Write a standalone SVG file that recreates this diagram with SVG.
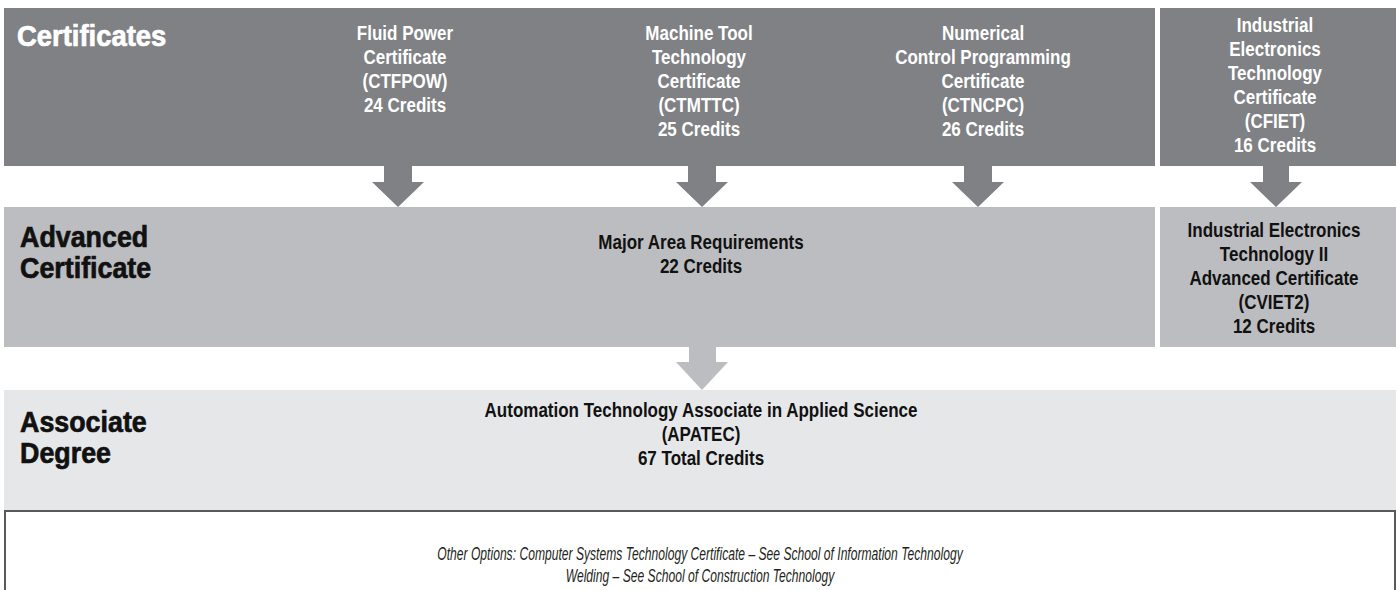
<svg xmlns="http://www.w3.org/2000/svg" width="1398" height="590" viewBox="0 0 1398 590">
<style>
.dark{fill:#808184}
.mid{fill:#bcbdc0}
.light{fill:#e6e7e8}
.title{font-family:"Liberation Sans",Arial,sans-serif;font-weight:bold;font-size:29.5px;stroke-width:0.7px}
.body{font-family:"Liberation Sans",Arial,sans-serif;font-weight:bold;font-size:21px;text-anchor:middle}
.note{font-family:"Liberation Sans",Arial,sans-serif;font-style:italic;font-size:18.5px;text-anchor:middle;fill:#231f20}
.w{fill:#ffffff}
.title.w{stroke:#ffffff}
.k{fill:#111111}
.title.k{stroke:#111111}
</style>
<rect width="1398" height="590" fill="#ffffff"/>
<g id="row-certificates">
<rect class="dark" x="4" y="8" width="1151" height="158"/>
<text class="title w" transform="translate(17 46) scale(0.93 1)">Certificates</text>
</g>
<g id="node-fluid-power">
<text class="body w" transform="translate(405 0) scale(0.81 1)"><tspan x="0" y="40">Fluid Power</tspan><tspan x="0" y="64">Certificate</tspan><tspan x="0" y="88">(CTFPOW)</tspan><tspan x="0" y="112">24 Credits</tspan></text>
</g>
<g id="node-machine-tool">
<text class="body w" transform="translate(699 0) scale(0.81 1)"><tspan x="0" y="40">Machine Tool</tspan><tspan x="0" y="64">Technology</tspan><tspan x="0" y="88">Certificate</tspan><tspan x="0" y="112">(CTMTTC)</tspan><tspan x="0" y="136">25 Credits</tspan></text>
</g>
<g id="node-numerical-control">
<text class="body w" transform="translate(983 0) scale(0.81 1)"><tspan x="0" y="40">Numerical</tspan><tspan x="0" y="64">Control Programming</tspan><tspan x="0" y="88">Certificate</tspan><tspan x="0" y="112">(CTNCPC)</tspan><tspan x="0" y="136">26 Credits</tspan></text>
</g>
<g id="node-industrial-electronics">
<rect class="dark" x="1160" y="8" width="236" height="158"/>
<text class="body w" transform="translate(1275 0) scale(0.81 1)"><tspan x="0" y="32">Industrial</tspan><tspan x="0" y="56">Electronics</tspan><tspan x="0" y="80">Technology</tspan><tspan x="0" y="104">Certificate</tspan><tspan x="0" y="128">(CFIET)</tspan><tspan x="0" y="152">16 Credits</tspan></text>
</g>
<g id="node-major-area">
<rect class="mid" x="4" y="207" width="1151" height="140"/>
<text class="title k" transform="translate(20 0) scale(0.91 1)"><tspan x="0" y="247">Advanced</tspan><tspan x="0" y="278">Certificate</tspan></text>
<text class="body k" transform="translate(701 0) scale(0.81 1)"><tspan x="0" y="249">Major Area Requirements</tspan><tspan x="0" y="273">22 Credits</tspan></text>
</g>
<g id="node-industrial-electronics-ii">
<rect class="mid" x="1160" y="207" width="236" height="140"/>
<text class="body k" transform="translate(1274 0) scale(0.81 1)"><tspan x="0" y="237">Industrial Electronics</tspan><tspan x="0" y="261">Technology II</tspan><tspan x="0" y="285">Advanced Certificate</tspan><tspan x="0" y="309">(CVIET2)</tspan><tspan x="0" y="333">12 Credits</tspan></text>
</g>
<g id="node-associate-degree">
<rect class="light" x="4" y="390" width="1392" height="120"/>
<text class="title k" transform="translate(20 0) scale(0.91 1)"><tspan x="0" y="432">Associate</tspan><tspan x="0" y="463">Degree</tspan></text>
<text class="body k" transform="translate(701 0) scale(0.81 1)"><tspan x="0" y="417">Automation Technology Associate in Applied Science</tspan><tspan x="0" y="441">(APATEC)</tspan><tspan x="0" y="465">67 Total Credits</tspan></text>
</g>
<g id="node-other-options">
<rect x="5" y="511" width="1390" height="100" fill="#ffffff" stroke="#58595b" stroke-width="2"/>
<text class="note" transform="translate(700 0) scale(0.655 1)"><tspan x="0" y="560">Other Options: Computer Systems Technology Certificate – See School of Information Technology</tspan><tspan x="0" y="582">Welding – See School of Construction Technology</tspan></text>
</g>
<g id="connectors">
<polygon class="dark" points="384,166 412,166 412,182 424,182 398,207 372,182 384,182"/>
<polygon class="dark" points="688,166 716,166 716,182 728,182 702,207 676,182 688,182"/>
<polygon class="dark" points="964,166 992,166 992,182 1004,182 978,207 952,182 964,182"/>
<polygon class="dark" points="1263,166 1289,166 1289,182 1302,182 1276,207 1250,182 1263,182"/>
<polygon class="mid" points="689,347 716,347 716,362 728,362 702,390 676,362 689,362"/>
</g>
</svg>
